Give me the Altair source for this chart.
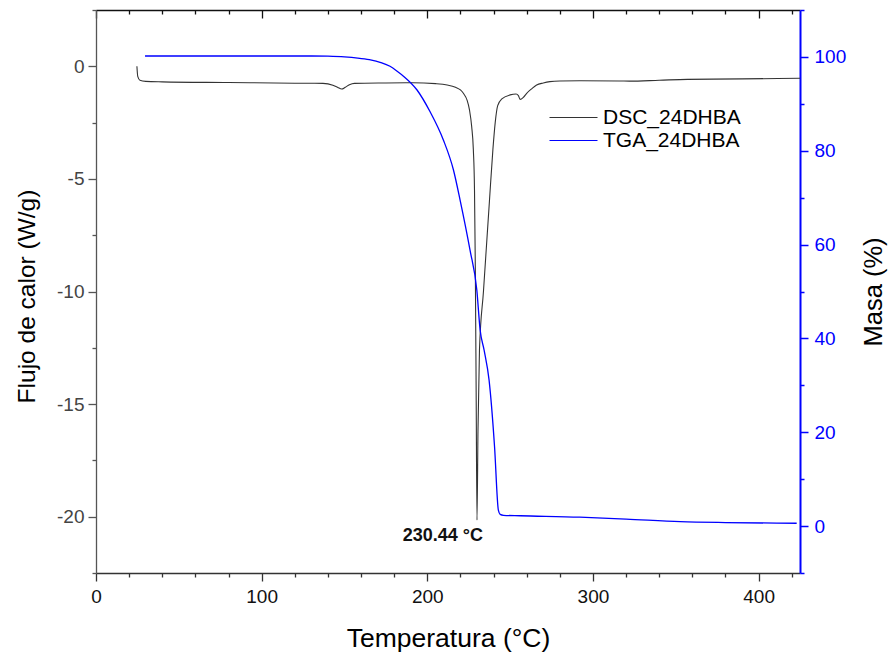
import altair as alt
import pandas as pd

# ---- data ----
dsc_T = [24.7, 25.2, 26.5, 30, 40, 80, 120, 137, 143, 146, 148.3, 150.5, 153, 156, 175, 191,
         205, 212, 217, 220, 222, 224, 225.5, 226.8, 227.8, 228.5, 229.0, 229.5, 230.0,
         230.6, 231.5, 233.9, 235.7, 237.5, 239.6, 241, 242.5, 245, 250, 253.6, 255,
         256, 258, 260, 263, 266, 270, 274, 280, 292, 316, 322, 340, 357, 390, 425]
dsc_V = [0.0, -0.45, -0.62, -0.67, -0.69, -0.72, -0.75, -0.76, -0.84, -0.94, -1.01, -0.93,
         -0.82, -0.76, -0.74, -0.73,
         -0.77, -0.83, -0.93, -1.05, -1.22, -1.5, -1.95, -2.68, -3.7, -5.5, -9.0, -14.5, -20.15,
         -16.2, -12.6, -10.0, -8.0, -6.0, -3.7, -2.5, -1.75, -1.45, -1.27, -1.23, -1.3,
         -1.47, -1.38, -1.2, -1.0, -0.83, -0.74, -0.68, -0.65, -0.64, -0.65, -0.66, -0.62, -0.58, -0.56, -0.53]

tga_T = [29.6, 60, 100, 130, 140, 150, 158, 165, 172, 177.5, 182, 185.6, 193.7, 201.7, 209.7,
         215.8, 219.8, 225.8, 229.9, 231.9, 234.3, 237.3, 240.6, 242.9, 244, 246, 256, 292,
         320, 352.7, 380, 423]
tga_M = [100.2, 100.2, 100.2, 100.2, 100.15, 100.0, 99.75, 99.4, 98.8, 98.0, 96.9, 95.9, 93.0,
         88.3, 82.3, 75.9, 69.5, 58.8, 50.3, 41.8, 37.5, 31.1, 16.9, 3.4, 2.5, 2.3, 2.2, 1.9,
         1.5, 0.95, 0.75, 0.6]

series = ["DSC_24DHBA", "TGA_24DHBA"]
series_colors = ["#333333", "#0000ff"]

peak_T = [230.0]
peak_V = [-20.15]
peak_label = ["230.44 °C"]

x_domain = [0, 425]
dsc_domain = [-22.5, 2.5]
tga_domain = [-10, 110]
x_ticks = list(range(0, 421, 20))
dsc_ticks = [-22.5, -20, -17.5, -15, -12.5, -10, -7.5, -5, -2.5, 0, 2.5]
tga_ticks = list(range(-10, 111, 10))

FONT = "Liberation Sans"

df_dsc = pd.DataFrame({"T": dsc_T, "V": dsc_V, "series": series[0]})
df_tga = pd.DataFrame({"T": tga_T, "M": tga_M, "series": series[1]})
df_peak = pd.DataFrame({"T": peak_T, "V": peak_V, "label": peak_label})

xscale = alt.Scale(domain=x_domain, nice=False, zero=False)
dsc_scale = alt.Scale(domain=dsc_domain, nice=False, zero=False)
tga_scale = alt.Scale(domain=tga_domain, nice=False, zero=False)


def series_color(i, legend_y):
    return alt.Color(
        "series:N",
        scale=alt.Scale(domain=[series[i]], range=[series_colors[i]]),
        legend=alt.Legend(
            title=None, orient="none", legendX=467, legendY=legend_y, padding=0,
            symbolType="M-4,0H4", symbolSize=144, symbolStrokeWidth=1.2,
            symbolStrokeColor=series_colors[i],
            labelFontSize=21, labelFont=FONT, labelColor="black", labelOffset=19,
        ),
    )


bottom_axis = alt.Axis(
    orient="bottom", values=x_ticks,
    labelExpr="datum.value % 100 === 0 ? '' + datum.value : ''",
    tickSize={"condition": {"test": "datum.value % 100 === 0", "value": 8}, "value": 4},
    tickColor="#333333", domainColor="#333333", domainWidth=1.3, tickWidth=1.3,
    labelFontSize=19, labelColor="#111111", labelFlush=False, labelOverlap=False, labelPadding=6,
    grid=False, title="Temperatura (°C)", titleFontSize=26.5, titleFontWeight="normal",
    titleColor="black", titleX=352, titleY=73, titleBaseline="alphabetic", titleAlign="center",
)
top_axis = alt.Axis(
    orient="top", values=x_ticks, labels=False, grid=False, title=None,
    tickSize={"condition": {"test": "datum.value % 100 === 0", "value": -8}, "value": -4},
    tickColor="#111111", domainColor="#111111", domainWidth=1.3, tickWidth=1.3,
)
left_axis = alt.Axis(
    orient="left", values=dsc_ticks,
    labelExpr="datum.value % 5 === 0 ? '' + datum.value : ''",
    tickSize={"condition": {"test": "datum.value % 5 === 0", "value": 8}, "value": 4},
    tickColor="#555555", domainColor="#555555", domainWidth=1.3, tickWidth=1.3,
    labelFontSize=19, labelColor="#444444", labelOverlap=False, labelPadding=4, labelFlush=False,
    grid=False, title="Flujo de calor (W/g)", titleFontSize=24.5, titleFontWeight="normal",
    titleColor="black", titleX=-69, titleY=286, titleAngle=270, titleBaseline="middle",
    titleAlign="center",
)
right_axis = alt.Axis(
    orient="right", values=tga_ticks,
    labelExpr="datum.value % 20 === 0 ? '' + datum.value : ''",
    tickSize={"condition": {"test": "datum.value % 20 === 0", "value": 8}, "value": 4},
    tickColor="#0000ff", domainColor="#0000ff", domainWidth=2, tickWidth=1.5,
    labelFontSize=19, labelColor="#0000ff", labelOverlap=False, labelPadding=6, labelFlush=False,
    grid=False, title="Masa (%)", titleFontSize=25.5, titleFontWeight="normal",
    titleColor="black", titleX=73, titleY=281.5, titleAngle=270, titleBaseline="middle",
    titleAlign="center",
)

dsc = alt.Chart(df_dsc).mark_line(strokeWidth=1.1, interpolate="monotone").encode(
    x=alt.X("T:Q", scale=xscale, axis=bottom_axis),
    y=alt.Y("V:Q", scale=dsc_scale, axis=left_axis),
    color=series_color(0, 97),
)
tga = alt.Chart(df_tga).mark_line(strokeWidth=1.3, interpolate="monotone").encode(
    x=alt.X("T:Q", scale=xscale, axis=top_axis),
    y=alt.Y("M:Q", scale=tga_scale, axis=right_axis),
    color=series_color(1, 120),
)
peak = alt.Chart(df_peak).mark_text(
    font=FONT, fontSize=18, fontWeight="bold", align="right", baseline="middle",
    dx=6, dy=16, color="#111111",
).encode(
    x=alt.X("T:Q", scale=xscale, axis=None),
    y=alt.Y("V:Q", scale=dsc_scale, axis=None),
    text="label:N",
)

chart = (
    alt.layer(dsc, tga, peak)
    .resolve_scale(y="independent", color="independent")
    .resolve_axis(x="independent", y="independent")
    .resolve_legend(color="independent")
    .properties(
        width=704, height=563,
        autosize=alt.AutoSizeParams(type="none"),
        padding={"left": 96, "top": 10, "right": 91, "bottom": 83},
        background="white",
    )
    .configure(font=FONT)
    .configure_view(stroke=None)
)

chart.save("out.html", embed_options={"renderer": "svg", "actions": False})
